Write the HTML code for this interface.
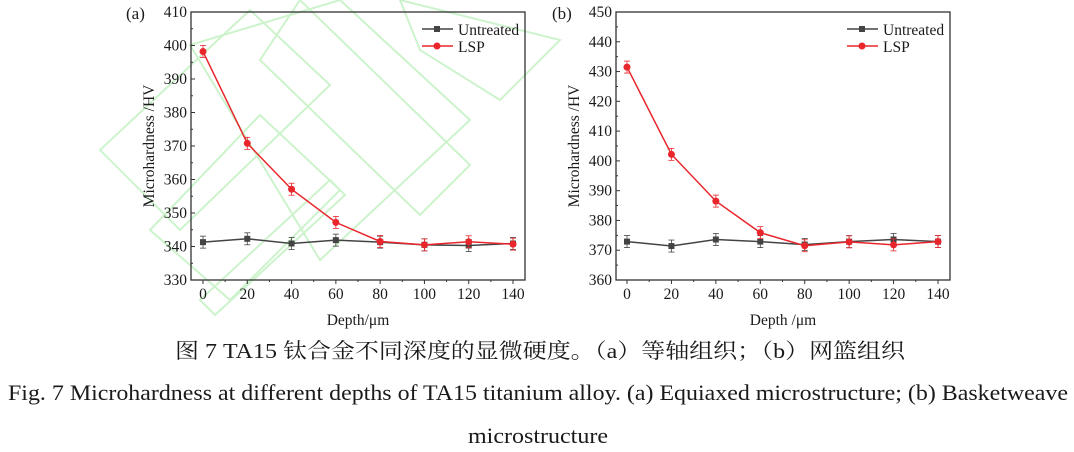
<!DOCTYPE html>
<html><head><meta charset="utf-8"><style>
html,body{margin:0;padding:0;background:#fff;}
svg{display:block}
text{font-family:"Liberation Serif","Noto Serif CJK SC",serif;fill:#1a1a1a}
</style></head><body>
<svg id="s" width="1074" height="452" viewBox="0 0 1074 452" xmlns="http://www.w3.org/2000/svg">
<g fill="none" stroke="#c4f2c4" stroke-width="2" opacity="0.85">
<polygon points="100,150 250,10 330,85 180,230"/>
<polygon points="150,230 260,115 340,190 230,300"/>
<polygon points="190,45 340,0 470,120 320,260"/>
<polygon points="300,0 470,165 420,215 260,60"/>
<polygon points="400,0 560,40 500,100 420,50"/>
<polygon points="200,300 330,180 345,195 215,315"/>
</g>
<g id="g"></g>
<text x="175" y="358" font-size="21" textLength="730" lengthAdjust="spacingAndGlyphs">图 7 TA15 钛合金不同深度的显微硬度。（a）等轴组织；（b）网篮组织</text>
<text x="8" y="400" font-size="22" textLength="1060" lengthAdjust="spacingAndGlyphs">Fig. 7 Microhardness at different depths of TA15 titanium alloy. (a) Equiaxed microstructure; (b) Basketweave</text>
<text x="468" y="443" font-size="22" textLength="140" lengthAdjust="spacingAndGlyphs">microstructure</text>
</svg>
<script>
const NS="http://www.w3.org/2000/svg";const G=document.getElementById('g');
function el(t,a,txt){const e=document.createElementNS(NS,t);for(const k in a)e.setAttribute(k,a[k]);if(txt!=null)e.textContent=txt;G.appendChild(e);return e;}
function chart(o){
 const X=v=>o.x0+(o.x1-o.x0)*v/140, Y=v=>o.yB+(o.yT-o.yB)*(v-o.ymin)/(o.ymax-o.ymin);
 el('rect',{x:o.fl,y:12,width:o.fr-o.fl,height:268,fill:'none',stroke:'#333','stroke-width':1.3});
 for(let v=o.ymin;v<=o.ymax;v+=10){const y=Y(v);el('line',{x1:o.fl,x2:o.fl+4,y1:y,y2:y,stroke:'#333'});
  el('text',{x:o.fl-4,y:y+5,'font-size':15.5,'text-anchor':'end'},v);
  if(v<o.ymax){const ym=Y(v+5);el('line',{x1:o.fl,x2:o.fl+2,y1:ym,y2:ym,stroke:'#333'});}}
 for(let v=0;v<=140;v+=20){const x=X(v);el('line',{x1:x,x2:x,y1:280,y2:284,stroke:'#333'});
  el('text',{x:x,y:299,'font-size':15.5,'text-anchor':'middle'},v);
  if(v<140){const xm=X(v+10);el('line',{x1:xm,x2:xm,y1:280,y2:282,stroke:'#333'});}}
 el('text',{x:(o.fl+o.fr)/2,y:325,'font-size':15.5,'text-anchor':'middle'},o.xl);
 el('text',{x:0,y:0,'font-size':15.5,'text-anchor':'middle',transform:`translate(${o.fl-37},146) rotate(-90)`},'Microhardness /HV');
 el('text',{x:o.lx,y:19,'font-size':17},o.lab);
 const xs=[0,20,40,60,80,100,120,140];
 [[o.u,'#444',0],[o.l,'#e8262c',1]].forEach(([d,c,circ])=>{
  el('polyline',{points:d.map((v,i)=>X(xs[i])+','+Y(v)).join(' '),fill:'none',stroke:c,'stroke-width':1.5});
  d.forEach((v,i)=>{const x=X(xs[i]),y=Y(v);el('line',{x1:x,x2:x,y1:y-6,y2:y+6,stroke:c,'stroke-width':0.8});
   el('line',{x1:x-3,x2:x+3,y1:y-6,y2:y-6,stroke:c,'stroke-width':0.8});el('line',{x1:x-3,x2:x+3,y1:y+6,y2:y+6,stroke:c,'stroke-width':0.8});
   if(circ)el('circle',{cx:x,cy:y,r:3.5,fill:c});else el('rect',{x:x-3,y:y-3,width:6,height:6,fill:c});});
 });
 const lx=o.fr-103;
 el('line',{x1:lx,x2:lx+31,y1:29,y2:29,stroke:'#444','stroke-width':1.5});el('rect',{x:lx+12,y:26,width:6,height:6,fill:'#444'});
 el('text',{x:lx+36,y:35,'font-size':15.5},'Untreated');
 el('line',{x1:lx,x2:lx+31,y1:46,y2:46,stroke:'#e8262c','stroke-width':1.5});el('circle',{cx:lx+15,cy:46,r:3.5,fill:'#e8262c'});
 el('text',{x:lx+36,y:52,'font-size':15.5},'LSP');
}
chart({fl:191,fr:525,x0:203,x1:513,yT:12,yB:280,ymin:330,ymax:410,xl:'Depth/μm',lab:'(a)',lx:126,
 l:[398.2,370.8,357.1,347.2,341.5,340.5,341.4,340.7],u:[341.3,342.3,340.9,341.9,341.3,340.5,340.3,340.9]});
chart({fl:616,fr:950,x0:627,x1:938,yT:12,yB:280,ymin:360,ymax:450,xl:'Depth /μm',lab:'(b)',lx:552,
 l:[431.5,402.2,386.5,375.9,371.5,372.8,371.8,372.9],u:[372.9,371.4,373.6,372.9,371.9,372.9,373.6,372.9]});
</script>
</body></html>
